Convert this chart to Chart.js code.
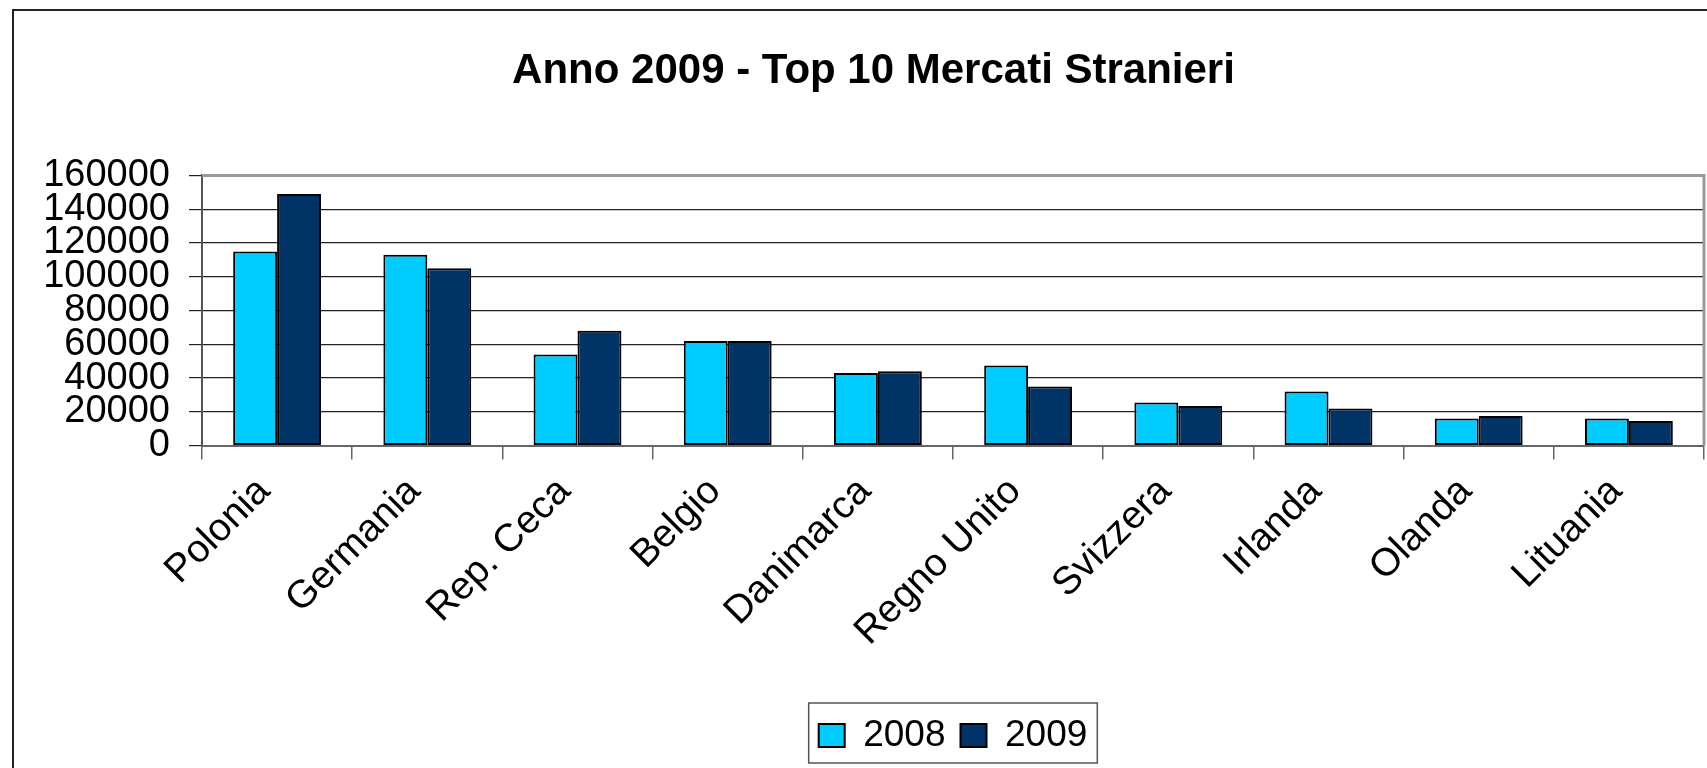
<!DOCTYPE html>
<html><head><meta charset="utf-8">
<script src="https://cdn.jsdelivr.net/npm/chart.js@4.4.0/dist/chart.umd.min.js"></script>
<style>
html,body{margin:0;padding:0;background:#fff;overflow:hidden;width:1707px;height:768px}
#wrap{position:absolute;left:0;top:0;width:1745px;height:768px}
</style>
</head><body><div id="wrap"><canvas id="c"></canvas></div>
<script>
const titleText = 'Anno 2009 - Top 10 Mercati Stranieri';
const categories = ['Polonia','Germania','Rep. Ceca','Belgio','Danimarca','Regno Unito','Svizzera','Irlanda','Olanda','Lituania'];
const seriesNames = ['2008','2009'];
const values2008 = [115000,113000,54000,62000,43000,47500,25500,32000,16000,16000];
const values2009 = [149000,105000,68000,62000,44000,35000,23500,22000,17500,14500];
const yMin = 0, yMax = 160000, yStep = 20000;

const FONT = "'Liberation Sans', Arial, sans-serif";
const Y_FONT_SIZE = 38, Y_PAD = 19, Y_TICKLEN = 13;

const framePlugin = {
  id: 'frame',
  beforeDraw(chart) {
    const ctx = chart.ctx;
    ctx.save();
    ctx.fillStyle = '#fff';
    ctx.fillRect(0, 0, chart.width, chart.height);
    ctx.strokeStyle = '#222';
    ctx.lineWidth = 2;
    ctx.beginPath();
    ctx.moveTo(13, chart.height + 5);
    ctx.lineTo(13, 10);
    ctx.lineTo(chart.width + 5, 10);
    ctx.stroke();
    ctx.restore();
  },
  afterDraw(chart) {
    const ctx = chart.ctx, a = chart.chartArea;
    ctx.save();
    ctx.strokeStyle = '#999';
    ctx.lineWidth = 3;
    ctx.beginPath();
    ctx.moveTo(a.left, a.top);
    ctx.lineTo(a.right, a.top);
    ctx.lineTo(a.right, a.bottom);
    ctx.stroke();
    const lg = chart.legend;
    if (lg && lg.legendHitBoxes && lg.legendHitBoxes.length) {
      let l = Infinity, r = -Infinity;
      lg.legendHitBoxes.forEach(h => {
        l = Math.min(l, h.left); r = Math.max(r, h.left + h.width);
      });
      ctx.strokeStyle = '#555';
      ctx.lineWidth = 1.5;
      ctx.strokeRect(l - 10, lg.top + 1, (r - l) + 20, lg.height - 2);
    }
    ctx.restore();
  }
};

new Chart(document.getElementById('c'), {
  type: 'bar',
  data: {
    labels: categories,
    datasets: [
      { label: seriesNames[0], data: values2008, backgroundColor: '#00CCFF', borderColor: '#000', borderWidth: 2, borderSkipped: false },
      { label: seriesNames[1], data: values2009, backgroundColor: '#003366', borderColor: '#000', borderWidth: 2, borderSkipped: false }
    ]
  },
  options: {
    responsive: true,
    maintainAspectRatio: false,
    animation: false,
    categoryPercentage: 0.585,
    barPercentage: 1.0,
    layout: { padding: { left: 43, right: 41, top: 0, bottom: 4 } },
    plugins: {
      title: {
        display: true, text: titleText, color: '#000',
        font: { family: FONT, size: 42, weight: 'bold' },
        padding: { top: 46, bottom: 79 }
      },
      legend: {
        position: 'bottom', fullSize: false,
        labels: {
          color: '#000', font: { family: FONT, size: 37 },
          boxWidth: 26, boxHeight: 23, padding: 15
        }
      },
      tooltip: { enabled: false }
    },
    scales: {
      x: {
        offset: true,
        grid: { offset: true, drawOnChartArea: false, color: '#666', lineWidth: 1.5, tickLength: 14 },
        border: { color: '#666', width: 2 },
        ticks: { color: '#000', font: { family: FONT, size: 39 }, maxRotation: 45, minRotation: 45, autoSkip: false, padding: 9, labelOffset: -13 },
        afterFit: (scale) => { scale.height += 38; scale.paddingLeft = 0; }
      },
      y: {
        min: yMin, max: yMax,
        grid: { color: '#222', lineWidth: 1.2, tickLength: Y_TICKLEN },
        border: { color: '#555', width: 2 },
        ticks: { stepSize: yStep, autoSkip: false, color: '#000', font: { family: FONT, size: Y_FONT_SIZE, lineHeight: 0.9 }, padding: Y_PAD,
                 callback: (v) => String(v) },
        afterFit: (scale) => {
          const ctx = scale.ctx;
          ctx.save();
          ctx.font = Y_FONT_SIZE + 'px ' + FONT;
          let w = 0;
          scale.ticks.forEach(t => { w = Math.max(w, ctx.measureText(String(t.value)).width); });
          ctx.restore();
          scale.width = Math.ceil(w) + Y_PAD + Y_TICKLEN;
        }
      }
    }
  },
  plugins: [framePlugin]
});
</script>
</body></html>
